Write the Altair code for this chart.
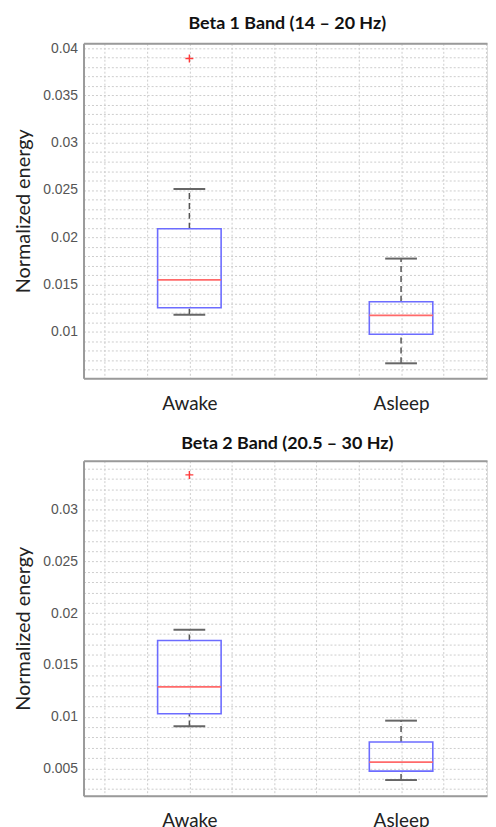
import altair as alt
import pandas as pd

# ---------------- data ----------------
groups = ["Awake", "Asleep"]

beta1_title = "Beta 1 Band (14 – 20 Hz)"
beta1_low = [0.01182, 0.00668]
beta1_q1 = [0.01255, 0.00976]
beta1_median = [0.0155, 0.01175]
beta1_q3 = [0.0209, 0.01318]
beta1_high = [0.0251, 0.01775]
beta1_outlier_groups = ["Awake"]
beta1_outliers = [0.0389]
beta1_ticks = [0.01, 0.015, 0.02, 0.025, 0.03, 0.035, 0.04]

beta2_title = "Beta 2 Band (20.5 – 30 Hz)"
beta2_low = [0.00907, 0.00388]
beta2_q1 = [0.01029, 0.00474]
beta2_median = [0.01288, 0.00561]
beta2_q3 = [0.01737, 0.00756]
beta2_high = [0.0184, 0.00962]
beta2_outlier_groups = ["Awake"]
beta2_outliers = [0.03337]
beta2_ticks = [0.005, 0.01, 0.015, 0.02, 0.025, 0.03]

# ---------------- style ----------------
W, H = 406, 337
X_DOMAIN = [0.5, 2.406]
BOX_HALF = 0.15
CAP_HALF = 0.075
GRID_COLOR = "#cdcdcd"
FRAME_COLOR = "#9a9a9a"
BOX_COLOR = "#6c6cff"
MED_COLOR = "#ff6a6a"
WHISK_COLOR = "#555555"
PLUS = "M-1,0H1M0,-1V1"

x_grid = [round(0.6 + 0.2 * i, 1) for i in range(10)]


def panel(title, low, q1, med, q3, high, out_groups, out_vals, ydom, ticks):
    pos = {g: i + 1 for i, g in enumerate(groups)}
    box_df = pd.DataFrame({
        "group": groups,
        "pos": [pos[g] for g in groups],
        "low": low, "q1": q1, "med": med, "q3": q3, "high": high,
    })
    out_df = pd.DataFrame({"group": out_groups,
                           "pos": [pos[g] for g in out_groups],
                           "value": out_vals})
    lo_g = round(ydom[0] + 0.0005, 3)
    y_grid = []
    v = round(lo_g if lo_g >= ydom[0] else lo_g + 0.001, 3)
    while v <= ydom[1]:
        y_grid.append(v)
        v = round(v + 0.001, 3)
    tick_set = ",".join(str(t) for t in ticks)

    xs = alt.Scale(domain=X_DOMAIN, nice=False, zero=False)
    ys = alt.Scale(domain=ydom, nice=False, zero=False)

    yaxis = alt.Axis(
        values=y_grid,
        labelExpr=f"indexof([{tick_set}], datum.value) >= 0 ? format(datum.value, '~g') : ''",
        grid=True, gridDash=[2, 2], gridColor=GRID_COLOR, gridWidth=1,
        ticks=False, domain=True, domainColor=FRAME_COLOR, domainWidth=2,
        labelFont="Liberation Sans", labelFontSize=14, labelColor="#555555",
        labelPadding=6, labelOverlap=False,
        title="Normalized energy", titleFont="Lato", titleFontSize=20,
        titleFontWeight="normal", titleColor="#222222", titlePadding=9,
    )
    xaxis_bottom = alt.Axis(
        values=x_grid,
        labelExpr="datum.value == 1 ? 'Awake' : (datum.value == 2 ? 'Asleep' : '')",
        grid=True, gridDash=[2, 2], gridColor=GRID_COLOR, gridWidth=1,
        ticks=False, domain=True, domainColor=FRAME_COLOR, domainWidth=2,
        labelFont="Lato", labelFontSize=19, labelColor="#222222",
        labelPadding=16, labelOverlap=False, title=None,
    )
    xaxis_top = alt.Axis(
        orient="top", values=[1, 2], labels=False, ticks=False, grid=False,
        domain=True, domainColor=FRAME_COLOR, domainWidth=2, title=None,
    )

    base = alt.Chart(box_df)
    whisk_up = base.mark_rule(color=WHISK_COLOR, strokeDash=[6, 4], strokeWidth=1.5).encode(
        x=alt.X("pos:Q", scale=xs, axis=xaxis_bottom),
        y=alt.Y("q3:Q", scale=ys, axis=yaxis), y2="high:Q")
    whisk_lo = base.mark_rule(color=WHISK_COLOR, strokeDash=[6, 4], strokeWidth=1.5).encode(
        x=alt.X("pos:Q", scale=xs, axis=None),
        y=alt.Y("low:Q", scale=ys, axis=yaxis), y2="q1:Q")
    caps = base.transform_calculate(
        c1=f"datum.pos - {CAP_HALF}", c2=f"datum.pos + {CAP_HALF}")
    cap_hi = caps.mark_rule(color="#666666", strokeWidth=2).encode(
        x=alt.X("c1:Q", scale=xs, axis=None), x2="c2:Q",
        y=alt.Y("high:Q", scale=ys, axis=yaxis))
    cap_lo = caps.mark_rule(color="#666666", strokeWidth=2).encode(
        x=alt.X("c1:Q", scale=xs, axis=None), x2="c2:Q",
        y=alt.Y("low:Q", scale=ys, axis=yaxis))
    boxes = base.transform_calculate(
        b1=f"datum.pos - {BOX_HALF}", b2=f"datum.pos + {BOX_HALF}")
    box = boxes.mark_rect(fillOpacity=0, stroke=BOX_COLOR, strokeWidth=1.6).encode(
        x=alt.X("b1:Q", scale=xs, axis=None), x2="b2:Q",
        y=alt.Y("q1:Q", scale=ys, axis=yaxis), y2="q3:Q")
    median = boxes.mark_rule(color=MED_COLOR, strokeWidth=1.6).encode(
        x=alt.X("b1:Q", scale=xs, axis=None), x2="b2:Q",
        y=alt.Y("med:Q", scale=ys, axis=yaxis))
    outl = alt.Chart(out_df).mark_point(
        shape=PLUS, filled=False, stroke="#ff3b3b", strokeWidth=1.4, size=64, opacity=1
    ).encode(
        x=alt.X("pos:Q", scale=xs, axis=xaxis_top),
        y=alt.Y("value:Q", scale=ys, axis=yaxis))

    return alt.layer(whisk_up, whisk_lo, cap_hi, cap_lo, box, median, outl).resolve_axis(
        x="independent"
    ).properties(
        width=W, height=H,
        title=alt.TitleParams(title, font="Lato", fontSize=18, fontWeight="bold",
                              color="#111111", offset=8, anchor="middle", dx=2),
    )


top = panel(beta1_title, beta1_low, beta1_q1, beta1_median, beta1_q3, beta1_high,
            beta1_outlier_groups, beta1_outliers, [0.0051, 0.0405], beta1_ticks)
bottom = panel(beta2_title, beta2_low, beta2_q1, beta2_median, beta2_q3, beta2_high,
               beta2_outlier_groups, beta2_outliers, [0.00237, 0.03474], beta2_ticks)

chart = alt.vconcat(top, bottom, spacing=20).properties(
    padding={"left": 5, "top": 4, "right": 0, "bottom": 0}
).configure_view(stroke=None).configure(background="white")

chart.save("out.html", embed_options={"renderer": "svg", "actions": False})
